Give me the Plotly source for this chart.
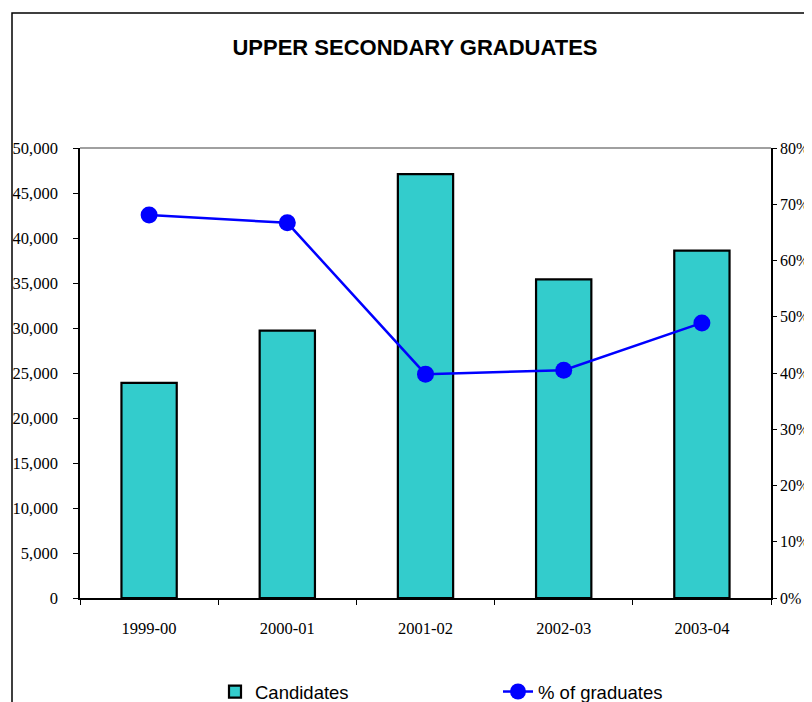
import plotly.graph_objects as go

# Data
years = ["1999-00", "2000-01", "2001-02", "2002-03", "2003-04"]
candidates = [23900, 29700, 47100, 35400, 38600]
graduates_pct = [68.1, 66.7, 39.8, 40.5, 48.9]

serif = "Liberation Serif, Times New Roman, serif"
sans = "Liberation Sans, Arial, sans-serif"

# the page body has an 8px margin, so the figure is drawn 8px smaller
W, H = 804, 694
L, R, T, B = 72, 41, 140, 104
pw, ph = W - L - R, H - T - B

fig = go.Figure()

fig.add_trace(go.Bar(
    name="Candidates", x=years, y=candidates,
    marker=dict(color="#33CCCC", line=dict(color="black", width=2.2)),
    width=0.4,
))

fig.add_trace(go.Scatter(
    name="% of graduates", x=years, y=graduates_pct, yaxis="y2",
    mode="lines+markers",
    line=dict(color="#0000FF", width=2.5),
    marker=dict(color="#0000FF", size=17),
))

tickfont = dict(family=serif, size=16.5, color="black")
fig.update_layout(
    width=W, height=H,
    margin=dict(l=L, r=R, t=T, b=B),
    plot_bgcolor="white", paper_bgcolor="white",
    title=dict(text="<b>UPPER SECONDARY GRADUATES</b>",
               x=407 / W, xanchor="center", y=1 - 39 / H, yanchor="middle",
               font=dict(family=sans, size=22, color="black")),
    xaxis=dict(type="category", showgrid=False, showline=True, linecolor="black",
               linewidth=1.5, automargin=False,
               ticks="outside", tickson="boundaries", ticklen=5, tickcolor="black",
               ticklabelstandoff=14, tickfont=tickfont),
    # overlay axis only to draw the inner half of the crossing x ticks
    xaxis2=dict(type="category", overlaying="x", anchor="y", categoryorder="array",
                categoryarray=years, range=[-0.5, 4.5], showgrid=False, showline=False,
                ticks="inside", tickson="boundaries", ticklen=5, tickcolor="black",
                showticklabels=False, automargin=False),
    yaxis=dict(range=[0, 50000], dtick=5000, tickformat=",", showgrid=False,
               showline=True, linecolor="black", linewidth=1.5, zeroline=False,
               automargin=False,
               ticks="outside", ticklen=5, tickcolor="black", ticklabelstandoff=12,
               tickfont=tickfont),
    yaxis2=dict(range=[0, 80], dtick=10, ticksuffix="%", overlaying="y", side="right",
                showgrid=False, showline=True, linecolor="black", linewidth=1.5,
                zeroline=False, automargin=False,
                ticks="outside", ticklen=4, tickcolor="black",
                ticklabelstandoff=0, tickfont=dict(family=serif, size=16, color="black")),
    yaxis3=dict(range=[0, 50000], dtick=5000, overlaying="y", side="left", anchor="x",
                showgrid=False, showline=False, zeroline=False, showticklabels=False,
                ticks="inside", ticklen=5, tickcolor="black", automargin=False),
    yaxis4=dict(range=[0, 80], dtick=10, overlaying="y", side="right", anchor="x",
                showgrid=False, showline=False, zeroline=False, showticklabels=False,
                ticks="inside", ticklen=5, tickcolor="black", automargin=False),
    legend=dict(orientation="h", xref="paper", x=(207 - L) / pw, xanchor="left",
                yref="container", y=1 - 684 / H, yanchor="middle",
                entrywidth=238, font=dict(family=sans, size=18.5, color="black"),
                bgcolor="rgba(0,0,0,0)"),
    shapes=[
        # gray top edge of the plot area
        dict(type="line", xref="paper", yref="paper", x0=0, x1=1, y0=1, y1=1,
             line=dict(color="#808080", width=1.5)),
        # chart area border
        dict(type="rect", xref="paper", yref="paper",
             x0=(4 - L) / pw, x1=1.2, y0=-0.5, y1=(590 - 5) / ph,
             line=dict(color="black", width=1.5)),
    ],
)

fig.write_html("out.html")
